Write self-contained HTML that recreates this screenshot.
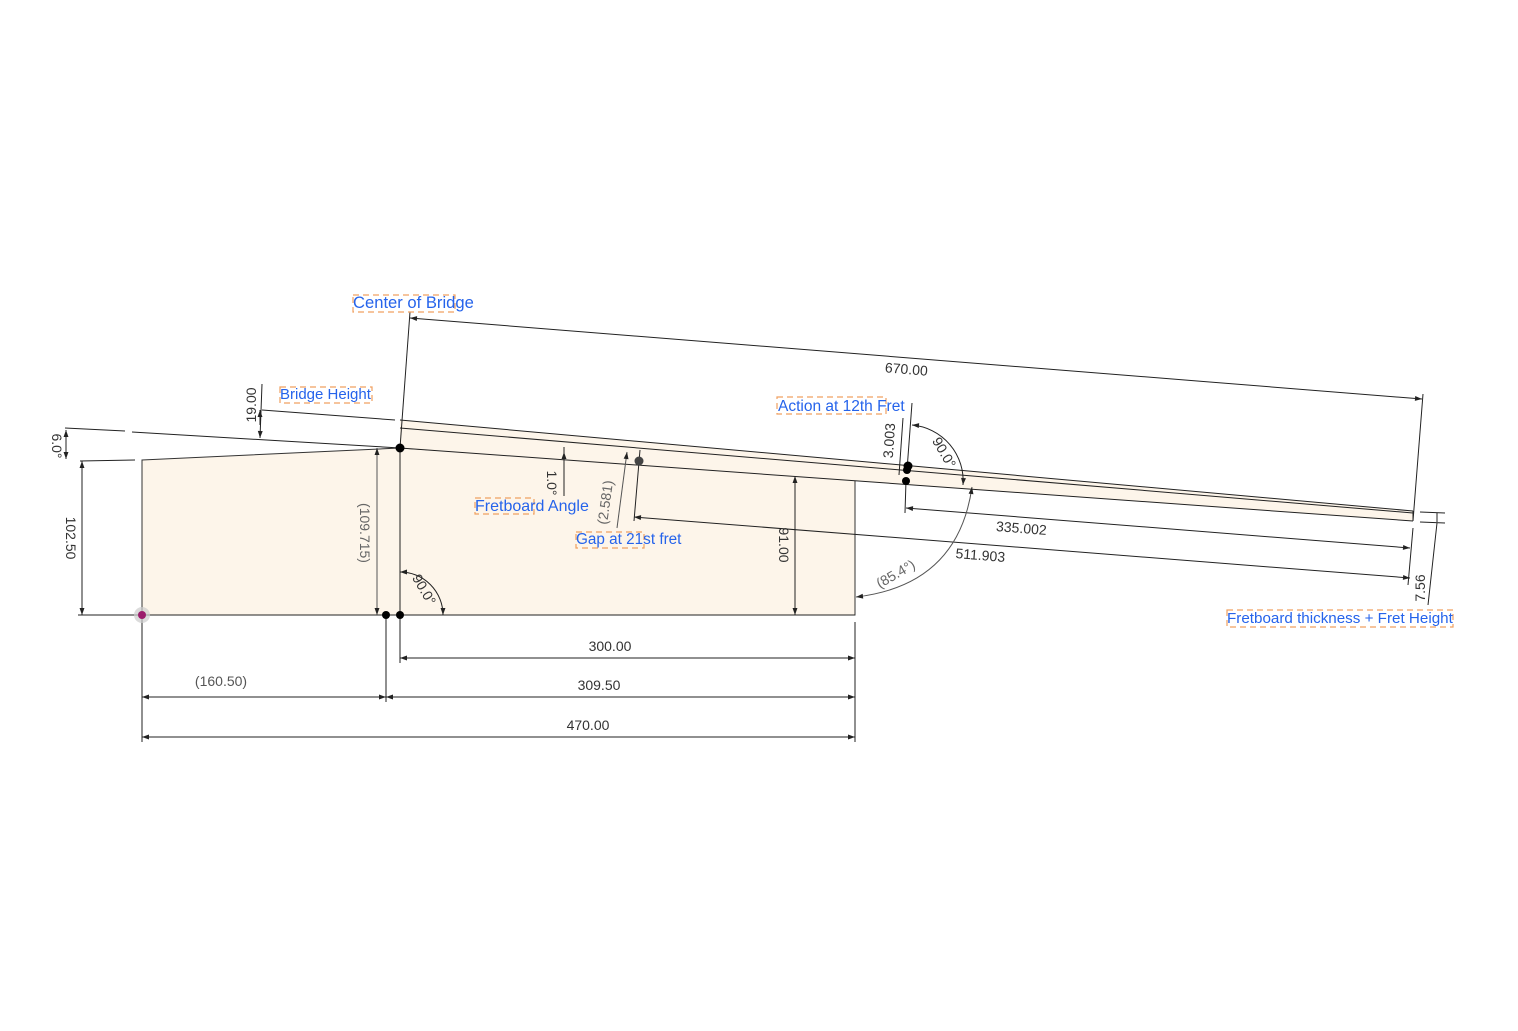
<!DOCTYPE html>
<html><head><meta charset="utf-8"><style>
html,body{margin:0;padding:0;background:#fff;}
svg{display:block;}
text{font-family:"Liberation Sans",sans-serif;font-size:14px;fill:#333;}
.lb{fill:#2563eb;font-size:15px;}
.bx{fill:none;stroke:#f0a060;stroke-width:1.2;stroke-dasharray:6,4;}
.l{stroke:#222;stroke-width:1;fill:none;}
.g{stroke:#555;stroke-width:1;fill:none;}
</style></head><body>
<svg width="1518" height="1031" viewBox="0 0 1518 1031" xmlns="http://www.w3.org/2000/svg">
<defs>
<marker id="a" viewBox="0 0 10 10" refX="10" refY="5" markerWidth="9" markerHeight="7" orient="auto-start-reverse" markerUnits="userSpaceOnUse"><path d="M0,1.5 L10,5 L0,8.5z" fill="#222"/></marker>
</defs>
<polygon points="142,460 400,448 855,476 855,615 142,615" fill="#fdf5ea" stroke="#333" stroke-width="1"/>
<polygon points="400,420 1413,511 1413,521 400,448" fill="#fdf5ea"/>
<line class="l" x1="400" y1="420" x2="1413" y2="511"/>
<line class="l" x1="400" y1="428" x2="1413" y2="513"/>
<line class="l" x1="400" y1="448" x2="1413" y2="521"/>
<line class="l" x1="1413" y1="511" x2="1413" y2="521"/>
<line class="l" x1="65" y1="428" x2="125" y2="431"/>
<line class="l" x1="132" y1="432" x2="400" y2="448"/>
<line class="l" x1="80" y1="461" x2="135" y2="460"/>
<line class="l" x1="66" y1="430" x2="66" y2="459" marker-start="url(#a)" marker-end="url(#a)"/>
<text transform="translate(52,446) rotate(90)" text-anchor="middle">6.0°</text>
<line class="l" x1="262" y1="410" x2="395" y2="420"/>
<line class="l" x1="262" y1="384" x2="260" y2="438" marker-end="url(#a)"/>
<line class="l" x1="260" y1="425" x2="260" y2="410" marker-end="url(#a)"/>
<text transform="translate(256,405) rotate(-90)" text-anchor="middle">19.00</text>
<line class="l" x1="410" y1="312" x2="400" y2="448"/>
<line class="l" x1="400" y1="448" x2="400" y2="615"/>
<line class="l" x1="410" y1="318" x2="1422" y2="399" marker-start="url(#a)" marker-end="url(#a)"/>
<line class="l" x1="1423" y1="394" x2="1413" y2="521"/>
<text transform="translate(906,374) rotate(4.6)" text-anchor="middle">670.00</text>
<line class="l" x1="78" y1="615" x2="855" y2="615"/>
<line class="l" x1="142" y1="615" x2="142" y2="742"/>
<line class="l" x1="386" y1="615" x2="386" y2="702"/>
<line class="l" x1="400" y1="615" x2="400" y2="663"/>
<line class="l" x1="855" y1="622" x2="855" y2="742"/>
<line class="l" x1="400" y1="658" x2="855" y2="658" marker-start="url(#a)" marker-end="url(#a)"/>
<text x="610" y="651" text-anchor="middle">300.00</text>
<line class="l" x1="386" y1="697" x2="855" y2="697" marker-start="url(#a)" marker-end="url(#a)"/>
<text x="599" y="690" text-anchor="middle">309.50</text>
<line class="l" x1="142" y1="697" x2="386" y2="697" marker-start="url(#a)" marker-end="url(#a)"/>
<text x="221" y="686" text-anchor="middle" style="fill:#555">(160.50)</text>
<line class="l" x1="142" y1="737" x2="855" y2="737" marker-start="url(#a)" marker-end="url(#a)"/>
<text x="588" y="730" text-anchor="middle">470.00</text>
<line class="l" x1="82" y1="461" x2="82" y2="615" marker-start="url(#a)" marker-end="url(#a)"/>
<text transform="translate(66,538) rotate(90)" text-anchor="middle">102.50</text>
<line class="g" x1="377" y1="448" x2="377" y2="615" marker-start="url(#a)" marker-end="url(#a)"/>
<text transform="translate(360,533) rotate(90)" text-anchor="middle" style="fill:#666">(109.715)</text>
<line class="l" x1="795" y1="476" x2="795" y2="615" marker-start="url(#a)" marker-end="url(#a)"/>
<text transform="translate(779,545) rotate(90)" text-anchor="middle">91.00</text>
<path class="l" d="M400,572 A43,43 0 0 1 443,615" marker-start="url(#a)" marker-end="url(#a)"/>
<text transform="translate(420,592) rotate(60)" text-anchor="middle">90.0°</text>
<line class="l" x1="564" y1="496" x2="564" y2="447"/>
<line class="l" x1="564" y1="468" x2="564" y2="452" marker-end="url(#a)"/>
<text transform="translate(547,483) rotate(90)" text-anchor="middle">1.0°</text>
<line class="g" x1="617" y1="528" x2="627" y2="452" marker-end="url(#a)"/>
<text transform="translate(610,503) rotate(-82)" text-anchor="middle" style="fill:#666">(2.581)</text>
<line class="l" x1="640" y1="450" x2="634" y2="521"/>
<line class="l" x1="634" y1="517" x2="1410" y2="578" marker-start="url(#a)" marker-end="url(#a)"/>
<text transform="translate(980,560) rotate(4.5)" text-anchor="middle">511.903</text>
<line class="l" x1="906" y1="481" x2="905" y2="513"/>
<line class="l" x1="906" y1="508" x2="1410" y2="548" marker-start="url(#a)" marker-end="url(#a)"/>
<text transform="translate(1021,533) rotate(4.5)" text-anchor="middle">335.002</text>
<line class="l" x1="1413" y1="528" x2="1408" y2="585"/>
<line class="l" x1="903" y1="418" x2="899" y2="475"/>
<line class="l" x1="912" y1="403" x2="907" y2="470"/>
<path class="l" d="M912,425 A56,56 0 0 1 963,485" marker-start="url(#a)" marker-end="url(#a)"/>
<text transform="translate(940,455) rotate(60)" text-anchor="middle">90.0°</text>
<text transform="translate(894,441) rotate(-86)" text-anchor="middle">3.003</text>
<path class="g" d="M856,597 Q958,585 972,487" marker-start="url(#a)" marker-end="url(#a)"/>
<text transform="translate(898,578) rotate(-30)" text-anchor="middle" style="fill:#666">(85.4°)</text>
<line class="l" x1="1420" y1="512" x2="1445" y2="513"/>
<line class="l" x1="1420" y1="522" x2="1445" y2="523"/>
<line class="l" x1="1437" y1="513" x2="1437" y2="522"/>
<line class="l" x1="1437" y1="523" x2="1428" y2="605"/>
<text transform="translate(1425,588) rotate(-90)" text-anchor="middle">7.56</text>
<circle cx="400" cy="448" r="4.5" fill="#000"/>
<circle cx="386" cy="615" r="4" fill="#000"/>
<circle cx="400" cy="615" r="4" fill="#000"/>
<circle cx="908" cy="466" r="4.5" fill="#000"/>
<circle cx="907" cy="470" r="4" fill="#000"/>
<circle cx="906" cy="481" r="4" fill="#000"/>
<circle cx="639" cy="461" r="4.5" fill="#444"/>
<circle cx="142" cy="615" r="8" fill="#ccc" opacity="0.7"/>
<circle cx="142" cy="615" r="4" fill="#9b1c6c"/>
<rect class="bx" x="353" y="295" width="102" height="17"/>
<text class="lb" x="353" y="308" style="font-size:16.6px">Center of Bridge</text>
<rect class="bx" x="280" y="387" width="92" height="16"/>
<text class="lb" x="280" y="399" style="font-size:15px">Bridge Height</text>
<rect class="bx" x="777" y="397" width="109" height="17"/>
<text class="lb" x="778" y="411" style="font-size:15.5px">Action at 12th Fret</text>
<rect class="bx" x="475" y="498" width="59" height="16"/>
<text class="lb" x="475" y="511" style="font-size:16px">Fretboard Angle</text>
<rect class="bx" x="576" y="532" width="68" height="16"/>
<text class="lb" x="576" y="544" style="font-size:15.3px">Gap at 21st fret</text>
<rect class="bx" x="1227" y="610" width="226" height="17"/>
<text class="lb" x="1227" y="623" style="font-size:15.2px">Fretboard thickness + Fret Height</text>
</svg>
</body></html>
